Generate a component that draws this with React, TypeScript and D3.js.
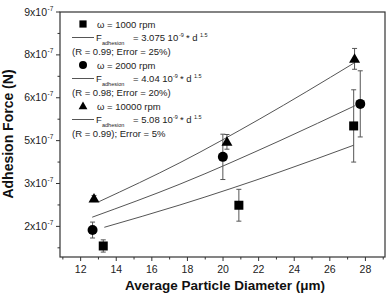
import * as d3 from "d3";

// particle diameter (um) and adhesion force (x10^-7 N, axis units) per rotation speed
const diam1000: number[] = [13.27, 20.89, 27.34];
const force1000: number[] = [1.36, 2.69, 5.28];
const err1000: number[] = [0.2, 0.52, 1.18];

const diam2000: number[] = [12.67, 19.99, 27.71];
const force2000: number[] = [1.88, 4.27, 6.0];
const err2000: number[] = [0.26, 0.74, 1.08];

const diam10000: number[] = [12.75, 20.22, 27.39];
const force10000: number[] = [2.91, 4.76, 7.47];
const err10000: number[] = [0.1, 0.24, 0.34];

// fitted F = k * d^1.5 curves, sampled along their length
const fitDiam1000: number[] = [13.33, 17.58, 23.2, 27.34];
const fitForce1000: number[] = [1.97, 2.7, 3.78, 4.65];
const fitDiam2000: number[] = [12.65, 17.58, 23.2, 27.41];
const fitForce2000: number[] = [2.3, 3.38, 4.8, 5.94];
const fitDiam10000: number[] = [13.04, 17.58, 22.07, 27.35];
const fitForce10000: number[] = [2.81, 4.08, 5.51, 7.33];

const xTicks: number[] = [12, 14, 16, 18, 20, 22, 24, 26, 28];
const xMinorTicks: number[] = [11, 13, 15, 17, 19, 21, 23, 25, 27, 29];
const yTicks: number[] = [2, 3.4, 4.8, 6.2, 7.6, 9];
const yTickLabels: string[] = ["2", "3", "5", "6", "8", "9"];
const yMinorTicks: number[] = [1.3, 2.7, 4.1, 5.5, 6.9, 8.3];

const legendRpm: string[] = ["1000", "2000", "10000"];
const legendCoef: string[] = ["3.075", "4.04", "5.08"];
const legendFit: string[] = [
  "(R = 0.99; Error = 25%)",
  "(R = 0.98; Error = 20%)",
  "(R = 0.99); Error = 5%",
];

const W = 388;
const H = 293;
const left = 60;
const right = 385;
const top = 12;
const bottom = 257;

const gray = "#555";
const font = "'Liberation Sans', Arial, sans-serif";

function Marker({ kind, x, y, s = 1 }: { kind: string; x: number; y: number; s?: number }) {
  if (kind === "square") return <rect x={x - 4.5 * s} y={y - 4.5 * s} width={9 * s} height={9 * s} fill="#000" />;
  if (kind === "circle") return <circle cx={x} cy={y} r={5 * s} fill="#000" />;
  return <path d={`M${x},${y - 5.5 * s}L${x + 5.5 * s},${y + 4 * s}L${x - 5.5 * s},${y + 4 * s}Z`} fill="#000" />;
}

export default function App() {
  const x = d3.scaleLinear().domain([10.84, 29.1]).range([left, right]);
  const y = d3.scaleLinear().domain([1, 9]).range([bottom, top]);

  const series = [
    { kind: "square", d: diam1000, f: force1000, e: err1000, fd: fitDiam1000, ff: fitForce1000 },
    { kind: "circle", d: diam2000, f: force2000, e: err2000, fd: fitDiam2000, ff: fitForce2000 },
    { kind: "triangle", d: diam10000, f: force10000, e: err10000, fd: fitDiam10000, ff: fitForce10000 },
  ];

  const line = d3
    .line<[number, number]>()
    .x((p) => x(p[0]))
    .y((p) => y(p[1]))
    .curve(d3.curveMonotoneX);

  return (
    <svg width={W} height={H} style={{ position: "absolute", left: 0, top: 0, background: "#fff" }} fontFamily={font}>
      {/* plot frame */}
      <rect x={left} y={top} width={right - left} height={bottom - top} fill="none" stroke="#333" strokeWidth={1.2} />

      {/* y axis */}
      {yTicks.map((t, i) => (
        <g key={"y" + t}>
          <line x1={left - 4} x2={left} y1={y(t)} y2={y(t)} stroke="#333" />
          <text x={left - 13} y={y(t) + 3.5} fontSize={10.5} textAnchor="end" fill="#222">
            {yTickLabels[i]}x10
          </text>
          <text x={left - 12.5} y={y(t) - 1.5} fontSize={6.5} fill="#222">
            -7
          </text>
        </g>
      ))}
      {yMinorTicks.map((t) => (
        <line key={"ym" + t} x1={left - 2.5} x2={left} y1={y(t)} y2={y(t)} stroke="#333" />
      ))}

      {/* x axis */}
      {xTicks.map((t) => (
        <g key={"x" + t}>
          <line x1={x(t)} x2={x(t)} y1={bottom} y2={bottom + 4} stroke="#333" />
          <text x={x(t)} y={bottom + 16} fontSize={10.5} textAnchor="middle" fill="#222">
            {t}
          </text>
        </g>
      ))}
      {xMinorTicks
        .filter((t) => x(t) > left && x(t) < right)
        .map((t) => (
          <line key={"xm" + t} x1={x(t)} x2={x(t)} y1={bottom} y2={bottom + 2.5} stroke="#333" />
        ))}

      {/* axis titles */}
      <text x={225} y={289.5} fontSize={13.5} fontWeight="bold" textAnchor="middle" fill="#111">
        Average Particle Diameter (μm)
      </text>
      <text
        transform={`translate(12.5, 134) rotate(-90)`}
        fontSize={14}
        fontWeight="bold"
        textAnchor="middle"
        fill="#111"
      >
        Adhesion Force (N)
      </text>

      {/* fit curves */}
      {series.map((s) => (
        <path
          key={"fit" + s.kind}
          d={line(s.fd.map((v, i) => [v, s.ff[i]] as [number, number])) || ""}
          fill="none"
          stroke={gray}
          strokeWidth={1}
        />
      ))}

      {/* error bars and points */}
      {series.map((s) =>
        s.d.map((v, i) => {
          const cx = x(v);
          const y0 = y(s.f[i] - s.e[i]);
          const y1 = y(s.f[i] + s.e[i]);
          return (
            <g key={s.kind + i}>
              <line x1={cx} x2={cx} y1={y0} y2={y1} stroke={gray} />
              <line x1={cx - 2.5} x2={cx + 2.5} y1={y0} y2={y0} stroke={gray} />
              <line x1={cx - 2.5} x2={cx + 2.5} y1={y1} y2={y1} stroke={gray} />
              <Marker kind={s.kind} x={cx} y={y(s.f[i])} />
            </g>
          );
        })
      )}

      {/* legend */}
      {series.map((s, i) => {
        const y0 = 24 + i * 41;
        return (
          <g key={"leg" + s.kind} fontSize={9.5} fill="#222">
            <Marker kind={s.kind} x={83} y={y0} s={0.8} />
            <text x={97} y={y0 + 3.5}>
              ω = {legendRpm[i]} rpm
            </text>
            <line x1={72} x2={94} y1={y0 + 13.5} y2={y0 + 13.5} stroke={gray} />
            <text x={96} y={y0 + 17}>
              F
            </text>
            <text x={102} y={y0 + 21} fontSize={5.5}>
              adhesion
            </text>
            <text x={133} y={y0 + 17}>
              = {legendCoef[i]} 10
            </text>
            <text x={133 + (i === 0 ? 46 : 40)} y={y0 + 13} fontSize={5.5}>
              -9
            </text>
            <text x={133 + (i === 0 ? 53 : 47)} y={y0 + 17}>
              * d
            </text>
            <text x={133 + (i === 0 ? 67 : 61)} y={y0 + 12.5} fontSize={5.5}>
              1.5
            </text>
            <text x={72} y={y0 + 31}>
              {legendFit[i]}
            </text>
          </g>
        );
      })}
    </svg>
  );
}
